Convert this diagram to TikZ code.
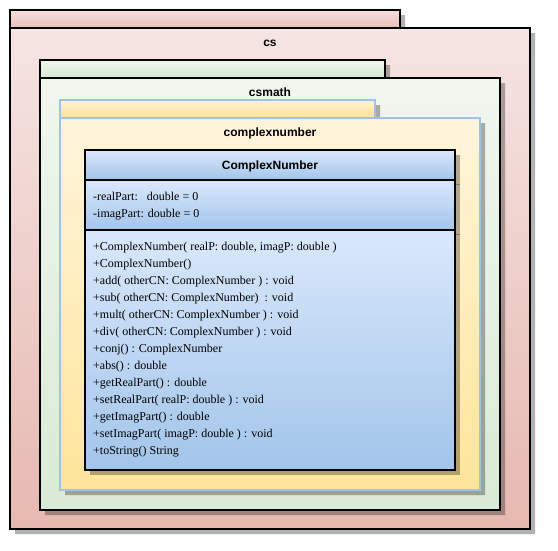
\documentclass[tikz,border=0pt]{standalone}
\usepackage{fontspec}
\setmainfont{Liberation Serif}
\newfontfamily\hv{Liberation Sans}
\definecolor{csTabTop}{HTML}{F6E0DD}
\definecolor{csTabBot}{HTML}{E9BDB6}
\definecolor{csTop}{HTML}{F5E5E3}
\definecolor{csBot}{HTML}{E6B8B0}
\definecolor{mTabTop}{HTML}{F0F6EE}
\definecolor{mTabBot}{HTML}{D6E8D3}
\definecolor{mTop}{HTML}{F1F6EF}
\definecolor{mBot}{HTML}{D9EAD5}
\definecolor{cTabTop}{HTML}{FFF4D8}
\definecolor{cTabBot}{HTML}{FFE08F}
\definecolor{cTop}{HTML}{FFF5DC}
\definecolor{cBot}{HTML}{FFE599}
\definecolor{cnBorder}{HTML}{9DC3EC}
\definecolor{clsTop}{HTML}{DAE8FC}
\definecolor{clsBot}{HTML}{A2C5EA}
\begin{document}
\begin{tikzpicture}[x=1pt,y=-1pt,
  shadow/.style={fill=black,fill opacity=0.3},
  blk/.style={draw=black,line width=2pt},
  bluebd/.style={draw=cnBorder,line width=1.3pt},
  pkglabel/.style={font=\hv\bfseries\fontsize{12}{14}\selectfont,inner sep=0pt,anchor=base},
  member/.style={font=\fontsize{12}{14}\selectfont,inner sep=0pt,anchor=base west}]
\useasboundingbox (0,0) rectangle (558,550);

% ---- package cs ----
\fill[shadow] (15,15) -- (405,15) -- (405,33) -- (535,33) -- (535,534) -- (15,534) -- cycle;
\shade[top color=csTabTop,bottom color=csTabBot] (10,10) rectangle (400,28);
\draw[blk] (10,10) rectangle (400,28);
\shade[top color=csTop,bottom color=csBot] (10,28) rectangle (530,529);
\draw[blk] (10,28) rectangle (530,529);
\node[pkglabel] (cs) at (270,46.5) {cs};

% ---- package csmath ----
\fill[shadow] (45,65) -- (390,65) -- (390,83) -- (505,83) -- (505,515) -- (45,515) -- cycle;
\shade[top color=mTabTop,bottom color=mTabBot] (40,60) rectangle (385,78);
\draw[blk] (40,60) rectangle (385,78);
\shade[top color=mTop,bottom color=mBot] (40,78) rectangle (500,510);
\draw[blk] (40,78) rectangle (500,510);
\node[pkglabel] (csmath) at (270,96.5) {csmath};

% ---- package complexnumber ----
\fill[shadow] (65,105) -- (380,105) -- (380,123) -- (485,123) -- (485,495) -- (65,495) -- cycle;
\shade[top color=cTabTop,bottom color=cTabBot] (60,100) rectangle (375,118);
\draw[bluebd] (60,100) rectangle (375,118);
\shade[top color=cTop,bottom color=cBot] (60,118) rectangle (480,490);
\draw[bluebd] (60,118) rectangle (480,490);
\node[pkglabel] (cnpkg) at (270,136.5) {complexnumber};

% ---- class ComplexNumber ----
\fill[shadow] (89.5,154.5) rectangle (459.5,474.5);
\draw[black,opacity=0.3,line width=1pt] (455,184.5) -- (459.5,184.5) (455,234.5) -- (459.5,234.5);
\shade[top color=clsTop,bottom color=clsBot] (85,150) rectangle (455,180);
\shade[top color=clsTop,bottom color=clsBot] (85,180) rectangle (455,230);
\shade[top color=clsTop,bottom color=clsBot] (85,230) rectangle (455,470);
\draw[blk] (85,150) rectangle (455,470);
\draw[blk] (85,180) -- (455,180);
\draw[blk] (85,230) -- (455,230);
\node[pkglabel] (cls) at (270,169.5) {ComplexNumber};

\node[member] (a1) at (93,200) {-realPart:\ \ \ double = 0};
\node[member] (a2) at (93,217) {-imagPart: double = 0};

\node[member] (m1) at (93,250) {+ComplexNumber( realP: double, imagP: double )};
\node[member] (m2) at (93,267) {+ComplexNumber()};
\node[member] (m3) at (93,284) {+add( otherCN: ComplexNumber ) : void};
\node[member] (m4) at (93,301) {+sub( otherCN: ComplexNumber)\ \ : void};
\node[member] (m5) at (93,318) {+mult( otherCN: ComplexNumber ) : void};
\node[member] (m6) at (93,335) {+div( otherCN: ComplexNumber ) : void};
\node[member] (m7) at (93,352) {+conj() : ComplexNumber};
\node[member] (m8) at (93,369) {+abs() : double};
\node[member] (m9) at (93,386) {+getRealPart() : double};
\node[member] (m10) at (93,403) {+setRealPart( realP: double ) : void};
\node[member] (m11) at (93,420) {+getImagPart() : double};
\node[member] (m12) at (93,437) {+setImagPart( imagP: double ) : void};
\node[member] (m13) at (93,454) {+toString() String};
\end{tikzpicture}
\end{document}
